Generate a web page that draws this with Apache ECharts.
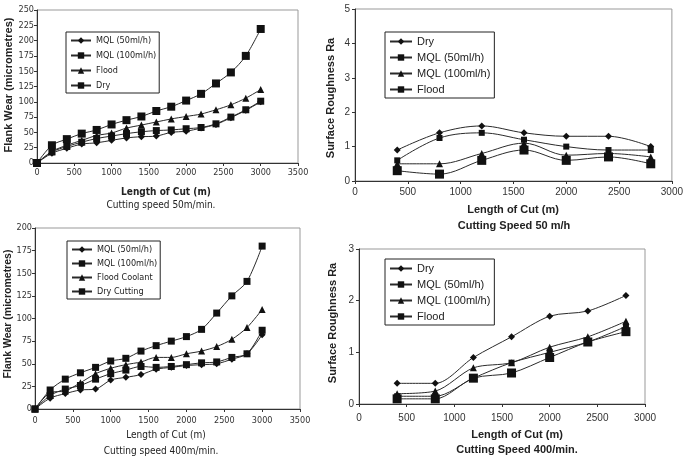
<!DOCTYPE html>
<html>
<head>
<meta charset="utf-8">
<script src="https://cdn.jsdelivr.net/npm/echarts@6/dist/echarts.min.js"></script>
<style>
html, body { margin: 0; padding: 0; background: #fff; }
#chart { width: 686px; height: 462px; }
</style>
</head>
<body>
<div id="chart"></div>
<script>
// length of cut (m)
var cutWear = [0, 200, 400, 600, 800, 1000, 1200, 1400, 1600, 1800, 2000, 2200, 2400, 2600, 2800, 3000];
var cutRough = [400, 800, 1200, 1600, 2000, 2400, 2800];

// flank wear, cutting speed 50 m/min
var wear50Mql50  = [0, 16, 24, 31, 33, 37, 41, 43, 44, 50, 52, 57, 63, 74, 86, 100];
var wear50Mql100 = [0, 18, 27, 34, 40, 44, 48, 51, 53, 54, 56, 58, 64, 75, 87, 101];
var wear50Flood  = [0, 19, 29, 37, 45, 49, 57, 62, 67, 72, 76, 80, 87, 95, 106, 120];
var wear50Dry    = [0, 29, 39, 48, 54, 63, 70, 76, 85, 92, 102, 113, 130, 148, 175, 219];

// flank wear, cutting speed 400 m/min
var wear400Mql50  = [0, 12, 17, 21, 22, 32, 35, 38, 44, 46, 48, 49, 50, 55, 61, 82];
var wear400Mql100 = [0, 15, 22, 26, 33, 39, 43, 47, 46, 47, 49, 51, 52, 57, 61, 87];
var wear400Flood  = [0, 18, 20, 29, 39, 45, 49, 52, 57, 57, 61, 64, 69, 77, 90, 110];
var wear400Dry    = [0, 21, 33, 40, 46, 53, 56, 64, 70, 75, 80, 88, 106, 125, 141, 180];

// surface roughness Ra, 50 m/h
var rough50Dry    = [0.9, 1.4, 1.6, 1.4, 1.3, 1.3, 1.0];
var rough50Mql50  = [0.6, 1.25, 1.4, 1.2, 1.0, 0.9, 0.9];
var rough50Mql100 = [0.5, 0.5, 0.8, 1.1, 0.75, 0.8, 0.7];
var rough50Flood  = [0.3, 0.2, 0.6, 0.9, 0.6, 0.7, 0.5];

// surface roughness Ra, 400/min
var rough400Dry    = [0.4, 0.4, 0.9, 1.3, 1.7, 1.8, 2.1];
var rough400Mql50  = [0.15, 0.15, 0.5, 0.8, 1.0, 1.2, 1.5];
var rough400Mql100 = [0.2, 0.25, 0.7, 0.8, 1.1, 1.3, 1.6];
var rough400Flood  = [0.1, 0.1, 0.5, 0.6, 0.9, 1.2, 1.4];

var labels = {
    a1: 'MQL (50ml/h)', a2: 'MQL (100ml/h)', a3: 'Flood', a4: 'Dry',
    b1: 'Dry', b2: 'MQL (50ml/h)', b3: 'MQL (100ml/h)', b4: 'Flood',
    c1: 'MQL (50ml/h)', c2: 'MQL (100ml/h)', c3: 'Flood Coolant', c4: 'Dry Cutting',
    d1: 'Dry', d2: 'MQL (50ml/h)', d3: 'MQL (100ml/h)', d4: 'Flood'
};

var narrow = '"Liberation Sans Narrow", "DejaVu Sans Condensed", "Liberation Sans", sans-serif';
var plain = '"Liberation Sans", Arial, sans-serif';

var myChart = echarts.init(document.getElementById('chart'));

function pairs(xs, ys) {
    return xs.map(function (x, i) { return [x, ys[i]]; });
}

function line(id, xs, ys, idx, symbol, size, smooth) {
    return {
        name: id,
        type: 'line',
        xAxisIndex: idx,
        yAxisIndex: idx,
        data: pairs(xs, ys),
        symbol: symbol,
        symbolSize: size,
        smooth: smooth,
        silent: true,
        lineStyle: { color: '#2a2a2a', width: 1 },
        itemStyle: { color: '#111', borderWidth: 0 }
    };
}

function plainNum(v) { return String(v); }

function xAxis(idx, max, size, margin, font) {
    return {
        type: 'value', gridIndex: idx, min: 0, max: max, interval: 500,
        splitLine: { show: false },
        axisLine: { lineStyle: { color: '#333' } },
        axisTick: { show: true, length: 3, lineStyle: { color: '#333' } },
        axisLabel: { fontSize: size, margin: margin, color: '#333', fontFamily: font, formatter: plainNum }
    };
}

function yAxis(idx, max, interval, size, margin, font) {
    return {
        type: 'value', gridIndex: idx, min: 0, max: max, interval: interval,
        splitLine: { show: false },
        axisLine: { show: true, lineStyle: { color: '#333' } },
        axisTick: { show: true, length: 3, lineStyle: { color: '#333' } },
        axisLabel: { fontSize: size, margin: margin, color: '#333', fontFamily: font, formatter: plainNum }
    };
}

function legend(ids, left, top, size, gap, font, iconW, padR) {
    return {
        data: ids, left: left, top: top, orient: 'vertical',
        formatter: function (n) { return labels[n]; },
        selectedMode: false,
        borderColor: '#222', borderWidth: 1, borderRadius: 0,
        padding: [4, padR, 3, 4],
        itemGap: gap, itemWidth: iconW, itemHeight: 8,
        textStyle: { fontSize: size, color: '#222', fontFamily: font }
    };
}

function text(x, y, str, size, bold, font, rotate) {
    return {
        type: 'text', x: x, y: y, rotation: rotate ? Math.PI / 2 : 0,
        style: {
            text: str, fontSize: size, fontWeight: bold ? 'bold' : 'normal',
            fontFamily: font, fill: '#222', align: 'center', verticalAlign: 'middle'
        }
    };
}

var option = {
    animation: false,
    grid: [
        { left: 37, top: 10, width: 261, height: 153, show: true, borderColor: '#999', borderWidth: 1 },
        { left: 355, top: 9, width: 318, height: 172, show: true, borderColor: '#999', borderWidth: 1 },
        { left: 35, top: 228, width: 265, height: 181, show: true, borderColor: '#999', borderWidth: 1 },
        { left: 359, top: 249, width: 286, height: 155, show: true, borderColor: '#999', borderWidth: 1 }
    ],
    xAxis: [
        xAxis(0, 3500, 9, 5, narrow),
        xAxis(1, 3000, 10, 6, plain),
        xAxis(2, 3500, 9, 7, narrow),
        xAxis(3, 3000, 10, 9, plain)
    ],
    yAxis: [
        yAxis(0, 250, 25, 9, 3, narrow),
        yAxis(1, 5, 1, 10, 5, plain),
        yAxis(2, 200, 25, 9, 3, narrow),
        yAxis(3, 3, 1, 10, 5, plain)
    ],
    legend: [
        legend(['a1', 'a2', 'a3', 'a4'], 66, 32, 9, 6, narrow, 20, 3),
        legend(['b1', 'b2', 'b3', 'b4'], 385, 32, 11, 5, plain, 22, 4),
        legend(['c1', 'c2', 'c3', 'c4'], 67, 241, 9, 5, narrow, 20, 3),
        legend(['d1', 'd2', 'd3', 'd4'], 385, 259, 11, 5, plain, 22, 4)
    ],
    graphic: [
        text(9, 85, 'Flank Wear (micrometres)', 11, true, plain, true),
        text(166, 192, 'Length of Cut (m)', 10, true, narrow),
        text(161, 205, 'Cutting speed 50m/min.', 10, false, narrow),

        text(331, 98, 'Surface Roughness Ra', 11, true, plain, true),
        text(513, 210, 'Length of Cut (m)', 11, true, plain),
        text(514, 226, 'Cutting Speed 50 m/h', 11, true, plain),

        text(8, 314, 'Flank Wear (micrometres)', 10.5, true, plain, true),
        text(166, 435, 'Length of Cut (m)', 10, false, narrow),
        text(161, 451, 'Cutting speed 400m/min.', 10, false, narrow),

        text(333, 323, 'Surface Roughness Ra', 11, true, plain, true),
        text(517, 435, 'Length of Cut (m)', 11, true, plain),
        text(517, 450, 'Cutting Speed 400/min.', 11, true, plain)
    ],
    series: [
        line('a1', cutWear, wear50Mql50, 0, 'diamond', 7, 0.3),
        line('a2', cutWear, wear50Mql100, 0, 'rect', 7, 0.3),
        line('a3', cutWear, wear50Flood, 0, 'triangle', 7, 0.3),
        line('a4', cutWear, wear50Dry, 0, 'rect', 8, 0.3),

        line('b1', cutRough, rough50Dry, 1, 'diamond', 7, 0.35),
        line('b2', cutRough, rough50Mql50, 1, 'rect', 6, 0.35),
        line('b3', cutRough, rough50Mql100, 1, 'triangle', 7, 0.35),
        line('b4', cutRough, rough50Flood, 1, 'rect', 9, 0.35),

        line('c1', cutWear, wear400Mql50, 2, 'diamond', 7, 0.3),
        line('c2', cutWear, wear400Mql100, 2, 'rect', 7, 0.3),
        line('c3', cutWear, wear400Flood, 2, 'triangle', 7, 0.3),
        line('c4', cutWear, wear400Dry, 2, 'rect', 7, 0.3),

        line('d1', cutRough, rough400Dry, 3, 'diamond', 7, 0.3),
        line('d2', cutRough, rough400Mql50, 3, 'rect', 6, 0.3),
        line('d3', cutRough, rough400Mql100, 3, 'triangle', 7, 0.3),
        line('d4', cutRough, rough400Flood, 3, 'rect', 9, 0.3)
    ]
};

myChart.setOption(option);
</script>
</body>
</html>
